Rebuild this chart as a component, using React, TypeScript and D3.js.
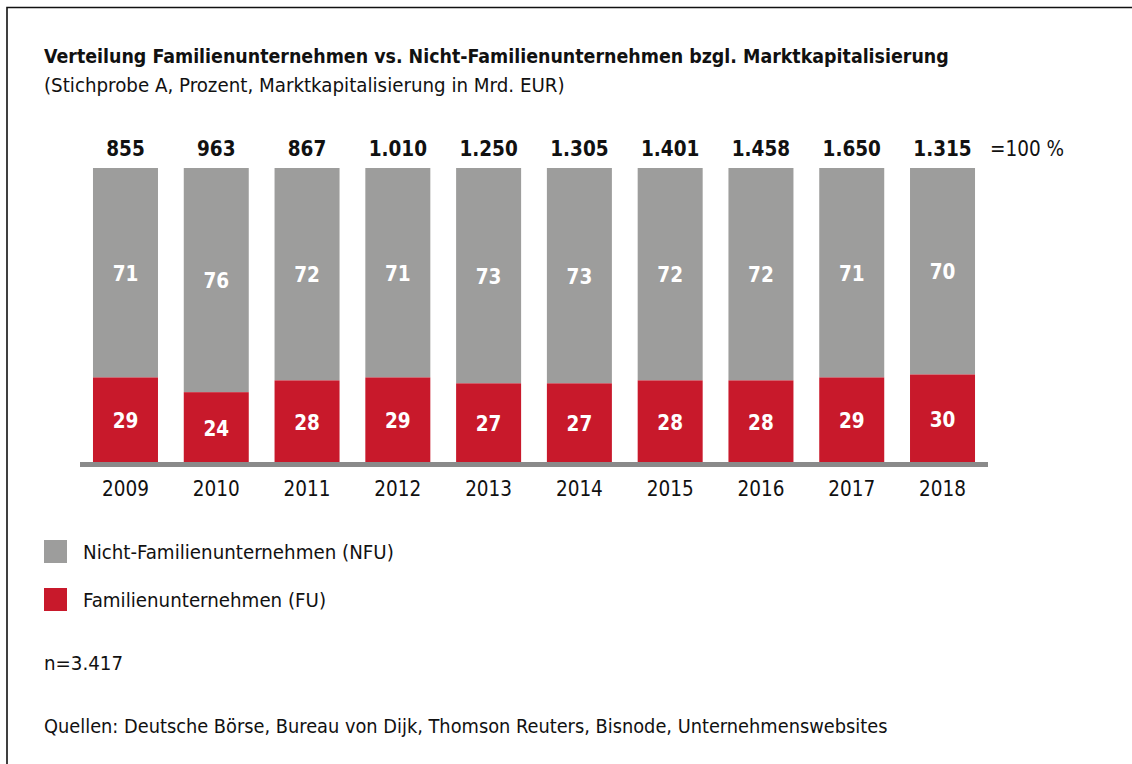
import React from "react";
import * as d3 from "d3";

const years = ["2009", "2010", "2011", "2012", "2013", "2014", "2015", "2016", "2017", "2018"];
const fuShare = [29, 24, 28, 29, 27, 27, 28, 28, 29, 30];
const nfuShare = [71, 76, 72, 71, 73, 73, 72, 72, 71, 70];
const totals = ["855", "963", "867", "1.010", "1.250", "1.305", "1.401", "1.458", "1.650", "1.315"];

const W = 1132;
const H = 764;
const FONT = "'DejaVu Sans', sans-serif";
const GREY = "#9d9d9c";
const RED = "#c8192b";

export default function App() {
  const x = d3.scaleBand<string>().domain(years).range([80, 988]).paddingInner(0.284).paddingOuter(0.143);
  const y = d3.scaleLinear().domain([0, 100]).range([463, 168]);
  const bw = x.bandwidth();
  const txt = { fontFamily: FONT, fontStretch: "condensed" as const };

  return (
    <svg width={W} height={H} style={{ position: "absolute", left: 0, top: 0, background: "#fff" }}>
      <rect x={0} y={0} width={W} height={H} fill="#fff" />
      <path d={`M7,${H} V7.5 H${W}`} fill="none" stroke="#111" strokeWidth={1.6} />
      <text x={44} y={63} fontSize={19.4} fontWeight="bold" fill="#111" style={txt}>
        Verteilung Familienunternehmen vs. Nicht-Familienunternehmen bzgl. Marktkapitalisierung
      </text>
      <text x={44} y={92} fontSize={20.3} fill="#111" style={txt}>
        (Stichprobe A, Prozent, Marktkapitalisierung in Mrd. EUR)
      </text>

      {years.map((yr, i) => {
        const x0 = x(yr)!;
        const cx = x0 + bw / 2;
        const f = fuShare[i];
        const n = nfuShare[i];
        return (
          <g key={yr}>
            <rect x={x0} y={y(f + n)} width={bw} height={y(f) - y(f + n)} fill={GREY} />
            <rect x={x0} y={y(f)} width={bw} height={y(0) - y(f)} fill={RED} />
            <text x={cx} y={(y(f + n) + y(f)) / 2 + 8} textAnchor="middle" fontSize={20.5} fontWeight="bold" fill="#fff" style={txt}>
              {n}
            </text>
            <text x={cx} y={(y(f) + y(0)) / 2 + 8} textAnchor="middle" fontSize={20.5} fontWeight="bold" fill="#fff" style={txt}>
              {f}
            </text>
            <text x={cx} y={155.5} textAnchor="middle" fontSize={20.5} fontWeight="bold" fill="#111" style={txt}>
              {totals[i]}
            </text>
            <text x={cx} y={496} textAnchor="middle" fontSize={20.5} fill="#111" style={txt}>
              {yr}
            </text>
          </g>
        );
      })}
      <rect x={80} y={462} width={908} height={5} fill="#8a8a8a" />
      <text x={990} y={155.5} fontSize={20.5} fill="#111" style={txt}>
        =100 %
      </text>

      <rect x={44} y={540} width={23} height={23} fill={GREY} />
      <text x={83} y={559} fontSize={20.3} fill="#111" style={txt}>
        Nicht-Familienunternehmen (NFU)
      </text>
      <rect x={44} y={588} width={23} height={23} fill={RED} />
      <text x={83} y={607} fontSize={20.3} fill="#111" style={txt}>
        Familienunternehmen (FU)
      </text>
      <text x={44} y={670} fontSize={20.3} fill="#111" style={txt}>
        n=3.417
      </text>
      <text x={44} y={733} fontSize={19.8} fill="#111" style={txt}>
        Quellen: Deutsche Börse, Bureau von Dijk, Thomson Reuters, Bisnode, Unternehmenswebsites
      </text>
    </svg>
  );
}
